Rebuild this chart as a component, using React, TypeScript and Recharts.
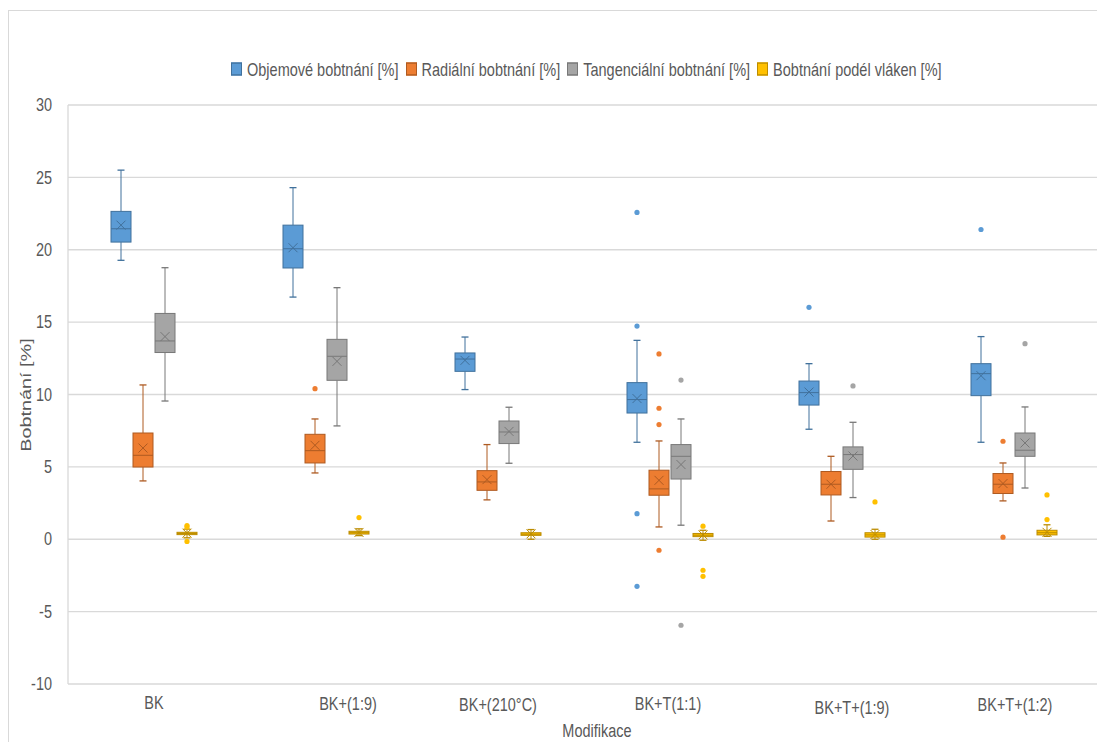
import React from 'react';
import { ComposedChart, Bar, XAxis, YAxis, CartesianGrid } from 'recharts';

const categories = ['BK', 'BK+(1:9)', 'BK+(210°C)', 'BK+T(1:1)', 'BK+T+(1:9)', 'BK+T+(1:2)'];
const yTicks = [-10, -5, 0, 5, 10, 15, 20, 25, 30];

// Objemové bobtnání [%]
const objLow = [19.27, 16.73, 10.34, 6.7, 7.6, 6.7];
const objQ1 = [20.53, 18.74, 11.6, 8.72, 9.27, 9.92];
const objMed = [21.45, 20.07, 12.45, 9.65, 10.13, 11.44];
const objQ3 = [22.65, 21.7, 12.87, 10.82, 10.93, 12.13];
const objHigh = [25.5, 24.29, 13.97, 13.74, 12.13, 14.0];
const objMean = [21.7, 20.14, 12.36, 9.72, 10.17, 11.3];
const objOut = [[], [], [], [22.58, 14.73, 1.77, -3.25], [16.02], [21.4]];

// Radiální bobtnání [%]
const radLow = [4.03, 4.58, 2.72, 0.85, 1.26, 2.65];
const radQ1 = [4.99, 5.27, 3.38, 3.04, 3.06, 3.16];
const radMed = [5.8, 6.12, 3.96, 3.48, 3.8, 3.8];
const radQ3 = [7.34, 7.25, 4.74, 4.77, 4.68, 4.54];
const radHigh = [10.66, 8.31, 6.54, 6.79, 5.73, 5.27];
const radMean = [6.3, 6.49, 4.12, 4.07, 3.8, 3.85];
const radOut = [[], [10.4], [], [12.8, 9.05, 7.92, -0.76], [], [6.77, 0.14]];

// Tangenciální bobtnání [%]
const tanLow = [9.55, 7.83, 5.25, 0.97, 2.88, 3.54];
const tanQ1 = [12.9, 10.98, 6.61, 4.16, 4.83, 5.73];
const tanMed = [13.7, 12.64, 7.41, 5.73, 5.85, 6.15];
const tanQ3 = [15.6, 13.81, 8.17, 6.54, 6.38, 7.34];
const tanHigh = [18.76, 17.38, 9.12, 8.31, 8.08, 9.14];
const tanMean = [14.0, 12.29, 7.45, 5.16, 5.75, 6.65];
const tanOut = [[], [], [], [11.0, -5.94], [10.59], [13.51]];

// Bobtnání podél vláken [%]
const podLow = [0.1, 0.25, 0.0, -0.07, 0.0, 0.2];
const podQ1 = [0.32, 0.36, 0.27, 0.18, 0.15, 0.3];
const podMed = [0.4, 0.45, 0.35, 0.28, 0.3, 0.45];
const podQ3 = [0.48, 0.55, 0.45, 0.4, 0.45, 0.62];
const podHigh = [0.7, 0.72, 0.67, 0.62, 0.69, 1.0];
const podMean = [0.42, 0.47, 0.37, 0.3, 0.33, 0.48];
const podOut = [[0.95, 0.85, -0.15], [1.5], [], [0.9, -2.14, -2.56], [2.58], [1.36, 3.06]];

type Stats = { low: number[]; q1: number[]; med: number[]; q3: number[]; high: number[]; mean: number[]; out: number[][] };

const seriesDefs: { key: string; name: string; fill: string; stroke: string; s: Stats }[] = [
  { key: 'obj', name: 'Objemové bobtnání [%]', fill: '#5B9BD5', stroke: '#41719C',
    s: { low: objLow, q1: objQ1, med: objMed, q3: objQ3, high: objHigh, mean: objMean, out: objOut } },
  { key: 'rad', name: 'Radiální bobtnání [%]', fill: '#ED7D31', stroke: '#AE5A21',
    s: { low: radLow, q1: radQ1, med: radMed, q3: radQ3, high: radHigh, mean: radMean, out: radOut } },
  { key: 'tan', name: 'Tangenciální bobtnání [%]', fill: '#A5A5A5', stroke: '#787878',
    s: { low: tanLow, q1: tanQ1, med: tanMed, q3: tanQ3, high: tanHigh, mean: tanMean, out: tanOut } },
  { key: 'pod', name: 'Bobtnání podél vláken [%]', fill: '#FFC000', stroke: '#BC8C00',
    s: { low: podLow, q1: podQ1, med: podMed, q3: podQ3, high: podHigh, mean: podMean, out: podOut } },
];

const data = categories.map((c, i) => {
  const row: any = { cat: c };
  seriesDefs.forEach(({ key, s }) => {
    row[key + 'Range'] = [s.low[i], s.high[i]];
    row[key + 'Q1'] = s.q1[i];
    row[key + 'Med'] = s.med[i];
    row[key + 'Q3'] = s.q3[i];
    row[key + 'Mean'] = s.mean[i];
    row[key + 'Out'] = s.out[i];
  });
  return row;
});

const makeShape = (key: string, fill: string, stroke: string) => (props: any) => {
  const { x, y, width, height, payload } = props;
  if (!payload) return <g />;
  const [low, high] = payload[key + 'Range'];
  const top = Math.min(y, y + height);
  const h = Math.abs(height);
  const py = (v: number) => top + ((high - v) / (high - low)) * h;
  const cx = x + width / 2;
  const yQ1 = py(payload[key + 'Q1']);
  const yQ3 = py(payload[key + 'Q3']);
  const yMed = py(payload[key + 'Med']);
  const yMean = py(payload[key + 'Mean']);
  const yLow = py(low);
  const yHigh = py(high);
  const cap = 3.5;
  const mx = 4.5;
  return (
    <g>
      <line x1={cx} x2={cx} y1={yHigh} y2={yQ3} stroke={stroke} strokeWidth={1} />
      <line x1={cx} x2={cx} y1={yQ1} y2={yLow} stroke={stroke} strokeWidth={1} />
      <line x1={cx - cap} x2={cx + cap} y1={yHigh} y2={yHigh} stroke={stroke} strokeWidth={1.3} />
      <line x1={cx - cap} x2={cx + cap} y1={yLow} y2={yLow} stroke={stroke} strokeWidth={1.3} />
      <rect x={x} y={yQ3} width={width} height={Math.max(yQ1 - yQ3, 1)} fill={fill} stroke={stroke} strokeWidth={1} />
      <line x1={x} x2={x + width} y1={yMed} y2={yMed} stroke={stroke} strokeWidth={1} />
      <line x1={cx - mx} x2={cx + mx} y1={yMean - mx} y2={yMean + mx} stroke={stroke} strokeWidth={1} />
      <line x1={cx - mx} x2={cx + mx} y1={yMean + mx} y2={yMean - mx} stroke={stroke} strokeWidth={1} />
      {(payload[key + 'Out'] as number[]).map((v, j) => (
        <circle key={j} cx={cx} cy={py(v)} r={2.6} fill={fill} />
      ))}
    </g>
  );
};

const textColor = '#595959';
const font = '"Liberation Sans", Arial, sans-serif';
const stretch = 1.32; // the reference text is vertically stretched

// small label nudges replicating the reference's uneven category label placement
const tickNudge: Record<string, [number, number]> = {
  'BK+(1:9)': [22, 1],
  'BK+(210°C)': [0, 2],
  'BK+T(1:1)': [-2, 1],
  'BK+T+(1:9)': [10, 5],
  'BK+T+(1:2)': [1, 2],
};

const XTick = (props: any) => {
  const { x, y, payload } = props;
  const label = String(payload.value);
  const [dx, dy] = tickNudge[label] || [0, 0];
  return (
    <g transform={`translate(${x + dx},${y + 13 + dy}) scale(1,${stretch})`}>
      <text x={0} y={0} textAnchor="middle" dominantBaseline="central" fontSize={14.5} fill={textColor} fontFamily={font}>
        {label}
      </text>
    </g>
  );
};

const YTick = (props: any) => {
  const { x, y, payload } = props;
  return (
    <g transform={`translate(${x},${y}) scale(1,${stretch})`}>
      <text x={0} y={0} textAnchor="end" dominantBaseline="central" fontSize={14.5} fill={textColor} fontFamily={font}>
        {payload.value}
      </text>
    </g>
  );
};

export default function App() {
  return (
    <div style={{ position: 'absolute', left: 8, top: 8, width: 1089, height: 734, overflow: 'hidden', fontFamily: font }}>
      <div style={{ position: 'absolute', left: 0, top: 2, width: 1, height: 732, background: '#d9d9d9' }} />
      <div style={{ position: 'absolute', left: 0, top: 2, width: 1089, height: 1, background: '#d9d9d9' }} />
      <div
        style={{
          position: 'absolute', left: 223, top: 53, display: 'flex', alignItems: 'center',
          fontSize: 14.5, color: textColor, whiteSpace: 'nowrap', zIndex: 2,
          transform: `scaleY(${stretch})`, transformOrigin: '0 50%',
        }}
      >
        {seriesDefs.map((d) => (
          <div key={d.key} style={{ display: 'flex', alignItems: 'center', marginRight: 7 }}>
            <span style={{ display: 'inline-block', width: 9, height: 8, background: d.fill, border: `1px solid ${d.stroke}`, marginRight: 5 }} />
            <span>{d.name}</span>
          </div>
        ))}
      </div>
      <ComposedChart
        width={1100}
        height={734}
        data={data}
        margin={{ top: 97, right: 8, bottom: 28, left: 0 }}
        barSize={20}
        barGap={2}
      >
        <CartesianGrid vertical={false} stroke="#d9d9d9" strokeWidth={1.3} />
        <XAxis
          dataKey="cat"
          height={30}
          axisLine={false}
          tickLine={false}
          interval={0}
          tick={<XTick />}
          tickMargin={0}
          label={{
            content: (p: any) => {
              const vb = p.viewBox || {};
              const cx = vb.x + vb.width / 2 + 13;
              return (
                <g transform={`translate(${cx},723) scale(1,${stretch})`}>
                  <text x={0} y={0} textAnchor="middle" dominantBaseline="central" fontSize={14.5} fill={textColor} fontFamily={font}>
                    Modifikace
                  </text>
                </g>
              );
            },
          }}
        />
        <YAxis
          type="number"
          domain={[-10, 30]}
          ticks={yTicks}
          width={60}
          axisLine={{ stroke: '#d9d9d9', strokeWidth: 1.3 }}
          tickLine={false}
          tickMargin={10}
          tick={<YTick />}
          label={{
            content: () => (
              <g transform={`translate(18,387) scale(1,${stretch}) rotate(-90)`}>
                <text x={0} y={0} textAnchor="middle" dominantBaseline="central" fontSize={15} fill={textColor} fontFamily={font}>
                  Bobtnání [%]
                </text>
              </g>
            ),
          }}
        />
        {seriesDefs.map((d) => (
          <Bar
            key={d.key}
            dataKey={d.key + 'Range'}
            name={d.name}
            fill={d.fill}
            isAnimationActive={false}
            shape={makeShape(d.key, d.fill, d.stroke)}
          />
        ))}
      </ComposedChart>
    </div>
  );
}
